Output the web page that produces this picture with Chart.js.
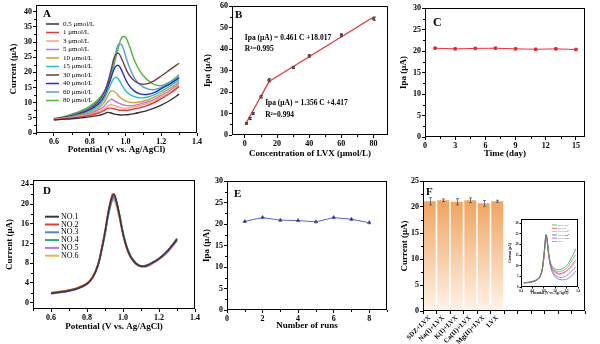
<!DOCTYPE html>
<html><head><meta charset="utf-8">
<script src="https://cdn.jsdelivr.net/npm/chart.js@4.4.0/dist/chart.umd.min.js"></script>
<style>
html,body{margin:0;padding:0;background:#fff;}
#wrap{position:relative;width:600px;height:344px;overflow:hidden;background:#fff;}
canvas{position:absolute;}
</style></head><body><div id="wrap"></div>
<script>
const SERIF = '"Liberation Serif","Times New Roman",serif';

// ---------------- Panel A ----------------
const potentialA = [0.60,0.65,0.70,0.75,0.80,0.85,0.88,0.90,0.92,0.94,0.96,0.98,1.00,1.02,1.05,1.08,1.12,1.16,1.20,1.25,1.30];
const labelsA = ['0.5 μmol/L','1 μmol/L','3 μmol/L','5 μmol/L','10 μmol/L','15 μmol/L','30 μmol/L','40 μmol/L','60 μmol/L','80 μmol/L'];
const curA_0_5 = [4.3,4.5,4.7,5.0,5.3,5.8,6.3,6.8,6.6,6.2,6.0,5.95,6.0,6.1,6.4,6.8,7.4,8.2,9.2,10.8,12.8];
const curA_1   = [4.4,4.6,4.9,5.3,5.8,6.6,7.4,8.1,8.2,7.9,7.6,7.5,7.5,7.6,7.9,8.3,9.0,10.0,11.3,13.1,15.3];
const curA_3   = [4.5,4.7,5.0,5.5,6.1,7.0,8.0,8.9,9.3,9.0,8.6,8.3,8.2,8.3,8.6,9.0,9.7,10.6,11.9,13.6,15.8];
const curA_5   = [4.5,4.8,5.2,5.7,6.4,7.6,8.8,10.2,11.1,10.6,9.9,9.4,9.1,9.0,9.1,9.5,10.2,11.1,12.4,14.1,16.3];
const curA_10  = [4.5,4.8,5.3,5.9,6.7,8.2,10.0,12.1,13.8,13.6,12.4,11.3,10.6,10.2,10.0,10.2,10.8,11.8,13.1,14.8,16.8];
const curA_15  = [4.5,4.9,5.4,6.1,7.1,9.0,11.2,13.6,16.4,18.3,17.8,15.8,14.0,12.9,12.0,11.6,11.8,12.6,13.8,15.5,17.5];
const curA_30  = [4.6,5.1,5.8,6.7,8.0,10.4,13.2,16.4,20.8,25.3,26.3,24.3,21.5,19.2,17.2,16.2,16.2,17.2,18.8,20.9,23.0];
const curA_40  = [4.6,5.0,5.6,6.4,7.6,9.6,12.0,14.8,18.2,21.5,22.3,20.5,17.8,15.7,13.8,12.9,12.7,13.3,14.6,16.2,18.2];
const curA_60  = [4.7,5.2,6.0,7.0,8.4,10.8,13.4,16.2,20.0,24.8,29.2,29.0,25.6,22.0,18.2,16.0,14.6,14.3,15.0,16.6,18.6];
const curA_80  = [4.8,5.3,6.2,7.3,8.8,11.2,13.6,15.8,19.0,23.4,28.0,31.5,31.6,29.0,24.0,20.5,17.6,16.0,15.6,16.9,19.2];
const seriesA = [curA_0_5,curA_1,curA_3,curA_5,curA_10,curA_15,curA_30,curA_40,curA_60,curA_80];
const colorsA = ['#333333','#e03a3a','#f4a582','#b678e6','#c9a227','#22c1c3','#6e3f3f','#2233c4','#5b9bd5','#54b435'];
const ticksAx = [0.6,0.8,1.0,1.2,1.4];
const ticksAy = [0,5,10,15,20,25,30,35,40];

// ---------------- Panel B ----------------
const concB = [1,3,5,10,15,30,40,60,80];
const ipaB = [5.4,7.7,10.0,17.8,25.5,31.4,36.8,46.4,54.1];
const errB = [0.4,0.5,0.5,0.6,0.8,0.5,0.6,0.7,0.8];
const fitLowC = [1,15];  const fitLowI = [5.8,24.8];
const fitHighC = [15,80]; const fitHighI = [24.9,54.9];
const ticksBx = [0,20,40,60,80];
const ticksBy = [0,10,20,30,40,50,60];
const eqB = ['Ipa (μA) = 0.461 C +18.017','R²=0.995','Ipa (μA) = 1.356 C +4.417','R²=0.994'];

// ---------------- Panel C ----------------
const daysC = [1,3,5,7,9,11,13,15];
const ipaC = [20.65,20.5,20.6,20.65,20.5,20.4,20.5,20.35];
const ticksCx = [0,3,6,9,12,15];
const ticksCy = [0,5,10,15,20,25,30];

// ---------------- Panel D ----------------
const potentialD = [0.60,0.65,0.70,0.75,0.80,0.83,0.86,0.88,0.90,0.92,0.94,0.95,0.96,0.98,1.00,1.02,1.04,1.06,1.08,1.10,1.13,1.16,1.20,1.25,1.30];
const labelsD = ['NO.1','NO.2','NO.3','NO.4','NO.5','NO.6'];
const curD1 = [1.9,2.1,2.4,2.9,3.8,5.0,7.5,10.5,14.2,18.6,21.6,21.9,21.1,17.8,14.0,11.3,9.5,8.4,7.7,7.4,7.5,8.0,8.9,10.6,12.8];
const curD2 = [2.0,2.2,2.5,3.0,3.9,5.1,7.7,10.8,14.6,19.0,21.9,22.1,21.2,17.7,13.9,11.2,9.4,8.3,7.6,7.35,7.5,8.0,8.9,10.6,12.9];
const curD3 = [1.9,2.1,2.4,2.9,3.8,5.0,7.5,10.5,14.1,18.3,21.2,21.6,21.0,17.9,14.1,11.4,9.6,8.5,7.8,7.5,7.6,8.1,9.0,10.6,12.7];
const curD4 = [2.0,2.2,2.5,3.0,3.8,5.0,7.4,10.3,13.9,18.0,21.0,21.4,21.0,18.1,14.4,11.6,9.7,8.6,7.8,7.5,7.6,8.1,9.0,10.7,13.0];
const curD5 = [1.8,2.0,2.3,2.8,3.7,4.9,7.3,10.2,13.8,17.9,20.8,21.1,20.4,17.4,13.8,11.2,9.4,8.3,7.6,7.3,7.3,7.8,8.7,10.3,12.5];
const curD6 = [2.1,2.3,2.6,3.1,4.0,5.2,7.8,10.9,14.6,18.6,20.7,20.8,20.0,17.0,13.6,11.0,9.3,8.3,7.6,7.4,7.5,8.0,8.9,10.5,13.1];
const seriesD = [curD1,curD2,curD3,curD4,curD5,curD6];
const colorsD = ['#3a3a3a','#e83a3a','#5b82d2','#33a87a','#b474e2','#e8b24e'];
const ticksDx = [0.6,0.8,1.0,1.2,1.4];
const ticksDy = [0,4,8,12,16,20,24];

// ---------------- Panel E ----------------
const runsE = [1,2,3,4,5,6,7,8];
const ipaE = [20.6,21.5,20.9,20.8,20.5,21.5,21.1,20.3];
const ticksEx = [0,2,4,6,8];
const ticksEy = [0,5,10,15,20,25,30];

// ---------------- Panel F ----------------
const categoriesF = ['SDZ+LVX','Na(I)+LVX','K(I)+LVX','Ca(II)+LVX','Mg(II)+LVX','LVX','','','','','',''];
const currentF = [21.1,21.3,21.0,21.3,20.7,21.1];
const errF = [0.7,0.25,0.6,0.45,0.55,0.2];
const ticksFy = [0,5,10,15,20,25];

// inset of F
const potentialIn = [0.45,0.55,0.62,0.68,0.72,0.76,0.79,0.82,0.84,0.86,0.89,0.93,0.98,1.03,1.08,1.13,1.18,1.23,1.28,1.32,1.36];
const labelsIn = ['LVX+Na⁺','LVX+K⁺','LVX+Ca²⁺','LVX+Mg²⁺','LVX+SDZ','LVX'];
const curIn1 = [2.0,2.3,2.8,3.5,4.6,7.0,12.0,20.0,24.6,22.0,15.0,10.5,8.8,8.2,8.2,8.6,9.5,11.0,13.5,15.5,18.0];
const curIn2 = [2.0,2.2,2.7,3.4,4.4,6.8,11.5,19.5,24.3,21.6,14.5,9.6,7.6,6.7,6.4,6.6,7.3,8.5,10.0,11.3,12.6];
const curIn3 = [2.1,2.3,2.8,3.5,4.5,6.9,11.8,19.8,24.0,21.3,14.2,9.3,7.2,6.2,5.9,6.1,6.8,7.9,9.3,10.5,11.6];
const curIn4 = [1.9,2.1,2.5,3.2,4.2,6.5,11.0,19.0,24.2,21.2,14.0,8.5,5.5,4.0,3.5,3.4,3.5,4.0,5.0,6.2,7.5];
const curIn5 = [2.0,2.2,2.6,3.3,4.3,6.6,11.2,19.2,24.4,21.4,14.2,8.9,6.2,4.9,4.5,4.6,5.1,6.0,7.3,8.4,9.5];
const curIn6 = [2.0,2.3,2.8,3.5,4.6,7.1,12.1,20.2,24.8,22.2,15.2,10.2,8.1,7.4,7.3,7.6,8.4,9.8,11.8,13.4,15.2];
const seriesIn = [curIn1,curIn2,curIn3,curIn4,curIn5,curIn6];
const colorsIn = ['#3d9a5a','#e04848','#e890b0','#5a6ee0','#a060d8','#48b8a0'];
const ticksInx = [0.4,0.6,0.8,1.0,1.2,1.4];
const ticksIny = [0,5,10,15,20,25,30];

// ================= helpers & plugins =================
Chart.defaults.plugins.legend.display = false;
Chart.defaults.plugins.tooltip.enabled = false;
Chart.defaults.animation = false;

const framePlugin = {id:'frame', afterDraw(chart){
  const a = chart.chartArea, ctx = chart.ctx;
  ctx.save(); ctx.strokeStyle = '#000'; ctx.lineWidth = 1;
  ctx.strokeRect(Math.round(a.left)+0.5, Math.round(a.top)+0.5, Math.round(a.right)-Math.round(a.left)-1, Math.round(a.bottom)-Math.round(a.top)-1);
  ctx.restore();
}};
const minorPlugin = {id:'minor', afterDraw(chart, args, o){
  if (!o || (!o.x && !o.y)) return;
  const ctx = chart.ctx; ctx.save(); ctx.strokeStyle = '#000'; ctx.lineWidth = 1;
  ['x','y'].forEach(k => {
    const n = o[k]; if (!n) return;
    const s = chart.scales[k]; const t = s.ticks.map(q => q.value); if (t.length < 2) return;
    const st = (t[1]-t[0])/n; const len = o.len || 2;
    for (let v = t[0]-st*n; v <= t[t.length-1]+st*n+1e-9; v += st) {
      if (v < s.min-1e-9 || v > s.max+1e-9) continue;
      if (t.some(m => Math.abs(m-v) < st/10)) continue;
      const p = Math.round(s.getPixelForValue(v))+0.5;
      ctx.beginPath();
      if (k === 'x') { ctx.moveTo(p, s.top); ctx.lineTo(p, s.top+len); }
      else { ctx.moveTo(s.right, p); ctx.lineTo(s.right-len, p); }
      ctx.stroke();
    }
  });
  ctx.restore();
}};
const letterPlugin = {id:'letter', afterDraw(chart, args, o){
  if (!o || !o.text) return;
  const a = chart.chartArea, ctx = chart.ctx;
  ctx.save(); ctx.fillStyle = '#000'; ctx.font = 'bold ' + o.size + 'px ' + SERIF; ctx.textBaseline = 'alphabetic';
  ctx.fillText(o.text, a.left + o.dx, a.top + o.dy); ctx.restore();
}};
const legendPlugin = {id:'lineLegend', afterDraw(chart, args, o){
  if (!o || !o.show) return;
  const a = chart.chartArea, ctx = chart.ctx;
  ctx.save(); ctx.font = (o.weight||'normal') + ' ' + o.size + 'px ' + SERIF; ctx.textBaseline = 'middle';
  chart.data.datasets.forEach((ds, i) => {
    if (!ds.label) return;
    const y = a.top + o.dy + i*o.spacing;
    ctx.strokeStyle = ds.borderColor; ctx.lineWidth = o.lineWidth;
    ctx.beginPath(); ctx.moveTo(a.left+o.dx, y); ctx.lineTo(a.left+o.dx+o.len, y); ctx.stroke();
    ctx.fillStyle = '#000'; ctx.fillText(ds.label, a.left+o.dx+o.len+o.gap, y);
  });
  ctx.restore();
}};
const notesPlugin = {id:'notes', afterDraw(chart, args, o){
  if (!o || !o.items) return;
  const ctx = chart.ctx; ctx.save(); ctx.fillStyle = '#000';
  ctx.font = 'bold ' + o.size + 'px ' + SERIF; ctx.textBaseline = 'middle';
  o.items.forEach(it => ctx.fillText(it.text, chart.scales.x.getPixelForValue(it.x), chart.scales.y.getPixelForValue(it.y)));
  ctx.restore();
}};
const errPlugin = {id:'errbars', afterDatasetsDraw(chart){
  const ctx = chart.ctx; ctx.save();
  chart.data.datasets.forEach((ds, i) => {
    if (!ds.errors) return;
    const meta = chart.getDatasetMeta(i); const ys = chart.scales.y;
    ctx.strokeStyle = ds.errorColor || '#000'; ctx.lineWidth = 0.8;
    meta.data.forEach((el, j) => {
      const e = ds.errors[j]; if (e == null) return;
      const d = ds.data[j]; const v = (typeof d === 'object') ? d.y : d;
      const x = Math.round(el.x)+0.5, y1 = ys.getPixelForValue(v+e), y2 = ys.getPixelForValue(v-e), c = ds.errorCap || 1.5;
      ctx.beginPath(); ctx.moveTo(x, y1); ctx.lineTo(x, y2);
      ctx.moveTo(x-c, y1); ctx.lineTo(x+c, y1); ctx.moveTo(x-c, y2); ctx.lineTo(x+c, y2); ctx.stroke();
    });
  });
  ctx.restore();
}};
Chart.register(framePlugin, minorPlugin, letterPlugin, legendPlugin, notesPlugin, errPlugin);

const wrap = document.getElementById('wrap');
const xy = (xs, ys) => xs.map((x, i) => ({x: x, y: ys[i]}));

function linAxis(min, max, tickArr, fmt, title, titlePad, fs, tfs, tl){
  return {
    type: 'linear', min: min, max: max,
    grid: {display: true, drawOnChartArea: false, drawTicks: true, tickLength: tl || 3, color: '#000', tickColor: '#000', lineWidth: 1},
    border: {display: false},
    ticks: {color: '#000', font: {family: SERIF, size: fs || 8, weight: 'bold'}, padding: 1, autoSkip: false, maxRotation: 0, minRotation: 0, callback: fmt},
    afterBuildTicks: s => { s.ticks = tickArr.map(v => ({value: v})); },
    title: {display: !!title, text: title, color: '#000', font: {family: SERIF, size: tfs || 9, weight: 'bold'}, padding: {top: titlePad, bottom: titlePad}}
  };
}

function makePanel(rect, yW, xH, config){
  const T = 12, R = 16;
  const c = document.createElement('canvas');
  const w = rect[2]-rect[0]+yW+R, h = rect[3]-rect[1]+T+xH;
  c.width = w; c.height = h;
  c.style.left = (rect[0]-yW) + 'px'; c.style.top = (rect[1]-T) + 'px';
  c.style.width = w + 'px'; c.style.height = h + 'px';
  wrap.appendChild(c);
  config.options.responsive = false;
  config.options.animation = false;
  config.options.devicePixelRatio = 1;
  config.options.layout = {padding: {top: T, right: R, left: 0, bottom: 0}};
  config.options.scales.x.afterFit = s => { s.height = xH; };
  config.options.scales.y.afterFit = s => { s.width = yW; };
  return new Chart(c, config);
}
const f1 = v => Number(v).toFixed(1);
const f0 = v => String(Math.round(v));

// ---------- A ----------
makePanel([36,5,197,133], 36, 24, {
  type: 'scatter',
  data: {datasets: seriesA.map((s, i) => ({label: labelsA[i], data: xy(potentialA, s), showLine: true, borderColor: colorsA[i], borderWidth: 1.4, pointRadius: 0, tension: 0.4}))},
  options: {
    scales: {
      x: linAxis(0.5, 1.4, ticksAx, f1, 'Potential (V vs. Ag/AgCl)', 1.6),
      y: linAxis(0, 42.2, ticksAy, f0, 'Current (μA)', 8.6)
    },
    plugins: {minor: {x: 2, y: 2}, letter: {text: 'A', dx: 7, dy: 12, size: 11},
      lineLegend: {show: true, dx: 10, dy: 19, spacing: 8.5, len: 13, gap: 4, size: 7, lineWidth: 1.5}}
  }
});

// ---------- B ----------
makePanel([232,6,388,135], 32, 25, {
  type: 'scatter',
  data: {datasets: [
    {data: xy(fitLowC, fitLowI), showLine: true, borderColor: '#d63c3c', borderWidth: 1.3, pointRadius: 0},
    {data: xy(fitHighC, fitHighI), showLine: true, borderColor: '#d63c3c', borderWidth: 1.3, pointRadius: 0},
    {data: xy(concB, ipaB), showLine: false, pointStyle: 'rect', pointRadius: 1.5, backgroundColor: '#555', borderColor: '#555', errors: errB, errorColor: '#444', errorCap: 1.5}
  ]},
  options: {
    scales: {
      x: linAxis(-8, 89, ticksBx, f0, 'Concentration of LVX (μmol/L)', 0.6),
      y: linAxis(0, 60, ticksBy, f0, 'Ipa (μA)', 2.6)
    },
    plugins: {minor: {x: 2, y: 2}, letter: {text: 'B', dx: 3, dy: 12, size: 11},
      notes: {size: 7.5, items: [{text: eqB[0], x: 0, y: 45.1}, {text: eqB[1], x: 0, y: 40.0}, {text: eqB[2], x: 12.6, y: 14.9}, {text: eqB[3], x: 12.6, y: 9.3}]}}
  }
});

// ---------- C ----------
makePanel([425,8,585,137], 27, 23, {
  type: 'scatter',
  data: {datasets: [{data: xy(daysC, ipaC), showLine: true, borderColor: '#e8303a', backgroundColor: '#d8202a', borderWidth: 1, pointStyle: 'rect', pointRadius: 1.8}]},
  options: {
    scales: {
      x: linAxis(0, 15.9, ticksCx, f0, 'Time (day)', 0.6),
      y: linAxis(0, 30, ticksCy, f0, 'Ipa (μA)', 0.6)
    },
    plugins: {minor: {x: 2, y: 2}, letter: {text: 'C', dx: 8, dy: 18, size: 12}}
  }
});

// ---------- D ----------
makePanel([33,180,195,309], 33, 24, {
  type: 'scatter',
  data: {datasets: seriesD.map((s, i) => ({label: labelsD[i], data: xy(potentialD, s), showLine: true, borderColor: colorsD[i], borderWidth: 1.5, pointRadius: 0, tension: 0.4}))},
  options: {
    scales: {
      x: linAxis(0.5, 1.4, ticksDx, f1, 'Potential (V vs. Ag/AgCl)', 0.6),
      y: linAxis(-1.3, 24.9, ticksDy, f0, 'Current (μA)', 4.6)
    },
    plugins: {minor: {x: 2, y: 2}, letter: {text: 'D', dx: 10, dy: 14, size: 11},
      lineLegend: {show: true, dx: 12, dy: 36.7, spacing: 7.8, len: 14, gap: 2, size: 8, lineWidth: 2}}
  }
});

// ---------- E ----------
makePanel([227,181,387,310], 27, 22, {
  type: 'scatter',
  data: {datasets: [{data: xy(runsE, ipaE), showLine: true, borderColor: '#5a64c8', backgroundColor: '#111', borderWidth: 1, pointStyle: 'triangle', pointRadius: 2}]},
  options: {
    scales: {
      x: linAxis(0, 9, ticksEx, f0, 'Number of runs', 0.6),
      y: linAxis(0, 30, ticksEy, f0, 'Ipa (μA)', 1.6)
    },
    plugins: {minor: {x: 2, y: 2}, letter: {text: 'E', dx: 7, dy: 16, size: 11}}
  }
});

// ---------- F ----------
const yF = linAxis(0, 25, ticksFy, f0, 'Current (μA)', 1.6);
makePanel([423,181,585,311], 25, 33, {
  type: 'bar',
  data: {labels: categoriesF, datasets: [{data: currentF, errors: errF, errorColor: '#555', errorCap: 1.5, barPercentage: 0.88, categoryPercentage: 1,
    backgroundColor: ctx => {
      const ch = ctx.chart, a = ch.chartArea; if (!a) return '#f5b57a';
      const g = ch.ctx.createLinearGradient(0, a.top, 0, a.bottom);
      g.addColorStop(0, '#ee9646'); g.addColorStop(1, '#fff3e8'); return g;
    }}]},
  options: {
    scales: {
      x: {type: 'category', offset: true,
        grid: {display: true, offset: true, drawOnChartArea: false, drawTicks: true, tickLength: 3, color: '#000', tickColor: '#000'},
        border: {display: false},
        ticks: {color: '#000', font: {family: SERIF, size: 6.8, weight: 'bold'}, padding: 0, autoSkip: false, minRotation: 45, maxRotation: 45}},
      y: yF
    },
    plugins: {minor: {y: 2}, letter: {text: 'F', dx: 3, dy: 14, size: 11}}
  }
});

// ---------- F inset ----------
makePanel([521,219,578,287], 16, 9, {
  type: 'scatter',
  data: {datasets: seriesIn.map((s, i) => ({label: labelsIn[i], data: xy(potentialIn, s), showLine: true, borderColor: colorsIn[i], borderWidth: 0.8, pointRadius: 0, tension: 0.4}))},
  options: {
    scales: {
      x: linAxis(0.4, 1.4, ticksInx, f1, 'Potential (V vs. Ag/AgCl)', 0.9, 3, 3.5, 1.5),
      y: linAxis(0, 32, ticksIny, f0, 'Current (μA)', 2.9, 3, 3.5, 1.5)
    },
    plugins: {lineLegend: {show: true, dx: 31, dy: 6, spacing: 3.3, len: 5, gap: 1, size: 2.6, lineWidth: 0.8}}
  }
});
</script>
</body></html>
